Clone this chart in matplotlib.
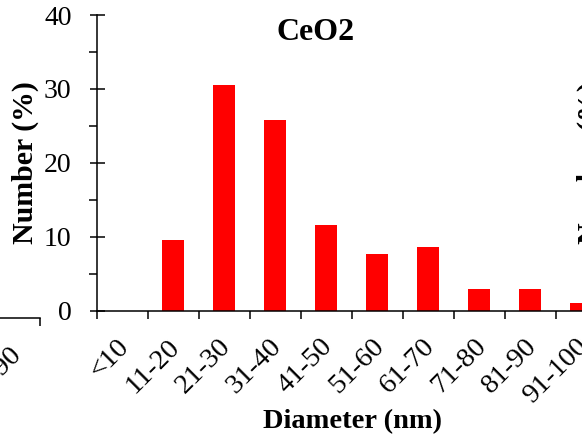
import numpy as np
import matplotlib
matplotlib.use("Agg")
import matplotlib.pyplot as plt
from matplotlib.ticker import FixedLocator, MultipleLocator

plt.rcParams['font.family'] = ['Liberation Serif', 'DejaVu Serif']

# size distribution of CeO2 particles
bins = ['<10', '11-20', '21-30', '31-40', '41-50', '51-60',
        '61-70', '71-80', '81-90', '91-100']
number_pct = [0.0, 9.6, 30.5, 25.8, 11.6, 7.7, 8.6, 2.9, 2.9, 1.0]

# bins of the neighbouring panel on the left (only its end shows)
left_bins = ['<10', '11-20', '21-30', '31-40', '41-50', '51-60',
             '61-70', '71-80', '81-90']

W, H = 582, 436
fig = plt.figure(figsize=(W / 100, H / 100), dpi=100)


def px_axes(x0, y_bottom, w, h):
    return fig.add_axes([x0 / W, (H - y_bottom) / H, w / W, h / H])


def style_xaxis(ax, labels):
    n = len(labels)
    ax.set_xlim(-0.5, n - 0.5)
    ax.xaxis.set_major_locator(FixedLocator(np.arange(n + 1) - 0.5))
    # rotated labels end a little left of the bin centre
    ax.xaxis.set_minor_locator(FixedLocator(np.arange(n) - 0.11))
    ax.set_xticklabels([], minor=False)
    ax.set_xticklabels(labels, minor=True, rotation=45, ha='right',
                       va='top', rotation_mode='anchor', fontsize=20.5)
    ax.tick_params(axis='x', which='major', direction='out', length=5.5,
                   width=1.1, labelbottom=False)
    ax.tick_params(axis='x', which='minor', length=0, pad=17)


# main panel
ax = px_axes(96.5, 310.5, 510, 295.5)
x = np.arange(len(bins))
ax.bar(x, number_pct, width=0.45, color='#ff0000', edgecolor='none', zorder=2)
style_xaxis(ax, bins)

ax.set_ylim(0, 40)
ax.yaxis.set_major_locator(MultipleLocator(10))
ax.yaxis.set_minor_locator(MultipleLocator(5))
ax.tick_params(axis='y', which='major', direction='inout', length=10.8,
               width=1.1, labelsize=20, pad=12.5)
ax.tick_params(axis='y', which='minor', direction='out', length=5.5,
               width=1.1)

for side in ('top', 'right'):
    ax.spines[side].set_visible(False)
for side in ('left', 'bottom'):
    ax.spines[side].set_linewidth(1.1)

ax.set_ylabel('Number (%)', fontsize=21.5, fontweight='bold')
ax.yaxis.set_label_coords(-0.113, 0.5)
ax.set_xlabel('Diameter (nm)', fontsize=20.5, fontweight='bold')
ax.xaxis.set_label_coords(0.501, -0.335)
ax.text(0.43, 0.942, 'CeO2', transform=ax.transAxes, ha='center',
        va='center', fontsize=23, fontweight='bold')

# neighbouring panel on the left, only its x axis end is in view
axl = px_axes(40 - 459, 318, 459, 295.5)
style_xaxis(axl, left_bins)
axl.set_ylim(0, 40)
axl.set_yticks([])
for side in ('top', 'right', 'left'):
    axl.spines[side].set_visible(False)
axl.spines['bottom'].set_linewidth(1.1)
axl.patch.set_visible(False)

# y label of the neighbouring panel on the right
fig.text(577 / W, 1 - 163 / H, 'Number (%)', rotation=90, ha='left',
         va='center', fontsize=21.5, fontweight='bold')

fig.savefig('out.png', dpi=100)
